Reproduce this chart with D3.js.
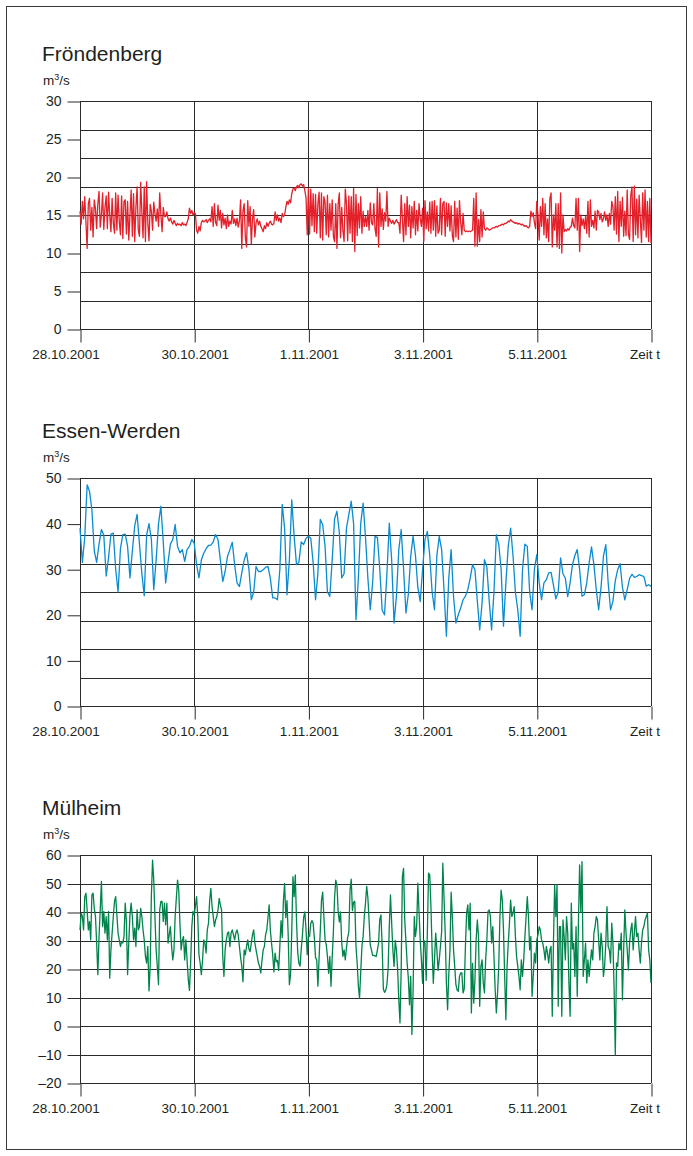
<!DOCTYPE html>
<html><head><meta charset="utf-8">
<script src="https://cdn.jsdelivr.net/npm/d3@7"></script>
<style>
html,body{margin:0;padding:0;background:#fff;}
svg text{font-family:"Liberation Sans",Arial,Helvetica,sans-serif;fill:#231f20;}
</style></head><body>
<svg id="chart" width="693" height="1156"></svg>
<script>
// ---- time axis ----
const startTime = Date.UTC(2001, 9, 28);
const endTime = Date.UTC(2001, 10, 7);
const xTickDates = [Date.UTC(2001,9,28), Date.UTC(2001,9,30), Date.UTC(2001,10,1), Date.UTC(2001,10,3), Date.UTC(2001,10,5), Date.UTC(2001,10,7)];
const xTickLabels = ["28.10.2001", "30.10.2001", "1.11.2001", "3.11.2001", "5.11.2001", ""];
const timeAxisTitle = "Zeit t";
const unitBase = "m";
const unitExponent = "3";
const unitTail = "/s";

// ---- stations ----
const stations = ["Fröndenberg", "Essen-Werden", "Mülheim"];
const yDomains = [[0, 30], [0, 50], [-20, 60]];
const yTickValues = [[0,5,10,15,20,25,30], [0,10,20,30,40,50], [-20,-10,0,10,20,30,40,50,60]];
const yTickLabels = [["0","5","10","15","20","25","30"], ["0","10","20","30","40","50"], ["–20","–10","0","10","20","30","40","50","60"]];
const gridDivisions = [8, 8, 8];
const sampleMinutes = [30, 60, 30];
const lineColors = ["#e4202a", "#0b8bd0", "#00844b"];

// discharge Fröndenberg, m³/s, half-hourly from 28.10.2001 00:00
const froendenbergFlow = [
15.5,13.8,16.8,14.5,17.4,14,10.6,16.5,17.2,13,
16,12.1,17,15.8,13.2,16.5,18.1,13.4,15,17.9,
13.1,16,17.5,13.2,18,15,12.8,17.2,14,12.6,
17.9,13,17.6,14.2,12.4,17.5,11.9,16.8,17,12.5,
16.8,11.7,15,18.3,12.2,17.8,11.5,16,18.7,13,
12.2,19.3,15.5,12,18.7,11.5,19.4,14,11.6,16.4,
15.5,13,16.7,15.2,14.2,15.8,13.5,17.9,15,12.8,
16,14.8,14.8,15.4,14.5,14.2,14.6,14.1,13.8,14.3,
13.9,13.6,13.9,13.7,13.8,13.6,14,13.7,13.8,13.6,
14,14.5,15.9,15.2,15.6,15,15.3,15.2,13,12.6,
13.5,12.9,14,14.3,14.1,14.2,14.4,14,14.3,14.5,
14.1,16.1,13.5,16.5,14,13.6,16.3,14.3,15.6,13.3,
15.2,13.7,14.6,13.2,15,13.5,14.2,13.8,15.6,13.9,
14.5,13.6,14.6,13.4,14.2,17,10.6,15.5,16.5,12,
10.8,16.9,13.5,16.1,11.2,14.5,15.7,12.1,14,14.5,
13.7,14.2,13.5,13.2,12.8,13.6,13.2,14,13.5,13.9,
14.2,13.8,13.7,13.9,15.4,14.3,15,14.2,14.6,14,
15.2,14.8,15,16,16.8,16.4,17,16.6,17.8,18.4,
18.6,18.2,18.7,18.9,18.6,19,19.1,18.8,19,18.2,
17.3,12.4,18.5,12.5,18.4,13.6,17.8,12.8,17.7,12.6,
16.5,18,12,17.9,11.7,17.4,16.7,12.4,17.6,12.1,
16.5,13,17,12.2,11.5,16.5,10.6,16.4,17.9,12,
16,13,11.5,18.4,16.5,11.6,17.5,12.6,17.4,11.5,
18.5,10.2,17.7,12.3,16.5,13.3,17.4,12.6,15.5,13.5,
14.8,13.5,15.6,13,16.6,14,13.7,16.5,13.2,12.2,
18.5,10.8,17.9,13.5,15.8,13.1,15.3,14.2,18.1,13.5,
14.6,14.2,13.9,14.3,13.8,14.1,14.4,14,14,12.6,
17.6,14.5,11.5,16.5,12.4,17.4,13.5,16.3,12,16.1,
13.3,16.8,12.4,15.6,12.9,16.5,14.5,13.5,15.9,11.5,
16.9,13.2,15.4,12.9,16.7,12.6,16.8,13,16.9,12.2,
16.2,12.6,13,17.2,12.4,16.5,16.8,12.2,16.6,13.5,
16.5,12.9,16.2,12.3,11.5,16.8,12.1,15.9,11.8,16.9,
14,12.4,15.2,13,12.8,12.9,12.8,12.9,12.8,12.9,
13,17.2,10.9,17.9,10.9,14.4,11.5,15.7,12.1,15.4,
13.2,13,13.3,13.2,13,13.1,13.2,13.3,13.3,13.4,
13.5,13.4,13.6,13.6,13.7,13.8,13.7,13.9,13.9,14,
14.2,14.1,14.4,14.2,14.1,14,13.9,14,13.8,13.9,
13.8,13.7,13.8,13.6,13.5,13.6,13.4,13.3,13.5,15.5,
14.8,15.3,14,13.2,16.8,15,11.7,16.1,13.5,17.2,
12.4,16.5,12,14.5,11.5,17.2,17.9,10.8,15,13,
16.5,10.8,16.5,10.6,17.9,10,15,12.8,13.1,12.9,
13.2,13,13.4,13.5,14.6,13.6,13.3,17.2,13,17.2,
10.2,15,13.6,14.5,13.2,14.8,12.6,16.8,12.1,17,
13.5,14.3,13.3,15.5,13,15.6,15.4,14.4,15.2,14.1,
14.5,15.4,14.3,15,13.5,15.2,13.8,16.8,16.1,13,
17.4,12.5,18.1,11.5,16.8,13.5,17.3,12.2,15.5,12.3,
18.3,12.5,11.8,17.6,18.7,11.5,18.8,12.4,17.1,12,
17.6,14.5,11.4,17.9,13,18.3,12.1,16.8,11.5,17.2,11.3
];

// discharge Essen-Werden, m³/s, hourly from 28.10.2001 00:00
const essenWerdenFlow = [
39,31.5,37,48.5,47.1,43,34,31.5,35.5,38.7,
37.5,28.5,32.5,37.7,37.9,30,25,34.5,37.6,37.7,
35,28.1,34,39.5,42,35.5,29,24.2,37.5,40,
36.5,25.5,32,40,43.8,36,27,31.5,35.5,36.5,
39.8,35,33.6,34.3,31.7,34.3,35,36.5,35.7,31,
28.1,32,33.5,34.5,35.2,35.3,36,37.6,36.5,32,
27.3,29.5,32.8,34.3,35.9,31,27,26.2,29.2,32,
33.6,30,23.3,25,30.6,29.5,29.5,29.9,30.4,30.6,
28,23.7,23.7,23.3,30,44.2,39,24.4,32,45.2,
37.2,31,31.5,36,35.4,36.8,37.2,36.8,31.4,23.3,
29.2,40.9,39.8,35,25,24,32,41,42.7,38,
28.1,29,39,42,44.9,40,18.9,28,40,44.5,
37,28,21.1,27,37.2,37,30,21,20,29,
40.1,32,18.2,24.1,34.3,38.7,30,20.4,24.5,32.8,
37.2,33,26,22.9,30,36.5,38.3,33,25,21.1,
33,37.2,34.3,25.5,15.3,28,34.3,24,18.2,20,
21.5,23.3,24.1,25.5,28,31,29.9,23,16.7,22.6,
32.1,30.5,23,16.7,25,37.6,35.5,30,17.5,27,
35,39,33,25,21.1,15.3,30,35.5,35,25,
21.1,30,33.2,27,23.3,27,27.7,29.2,29.3,26.5,
23.5,25,32.5,29,28,24,27,31,33,34.3,
29.9,24.1,24.4,27,31.4,34.9,31,25.5,21.1,26,
32.8,35.4,27,21.1,23,27.5,29.9,31.2,26,23.3,
25.5,28,28.9,28.2,28.4,28.8,28.6,28.4,26.3,26.6,26.2
];

// discharge Mülheim, m³/s, half-hourly from 28.10.2001 00:00
const muelheimFlow = [
33.7,39.6,38.4,33.7,45.4,46.6,40.7,33.7,36.7,30.2,
46,46.6,41.3,38.4,29.1,18,31.4,40.7,50.7,34.9,
40.2,32.6,38.4,30.2,40.2,16.8,26.7,32.6,38.4,43.7,
45.4,39,32.6,30.2,27.9,29.7,29.1,31.4,43.1,36.7,
18,29.1,39,43.1,38.4,30.2,34.3,27.9,40.7,33.7,
34.9,41.3,38.4,33.7,30.2,24.4,22.1,27.9,12.3,20.9,
46,58.2,51.2,38.4,26.7,20.9,14.5,40.7,43.7,43.7,
36.7,43.1,35.5,43.1,29.1,32,34.9,27.9,23.2,26.7,
38.4,45,51.2,47.7,36.1,26.7,30,31.4,23.2,30.2,
23.2,16.5,12.5,22.1,34.9,40.2,39,42,45.4,38.4,
25,22.1,18,23,30.2,29.1,25.6,33.7,36,44,
48.3,42,38.4,34.9,37.2,38.4,40.7,44.8,42.5,40.7,
24.4,17.4,26.7,30.2,32.6,33,27.9,32.6,33.7,32,
30.2,32.6,33.7,32,27.9,24,21,15.5,26.7,25,
27.9,30.2,27,26.1,29.1,32,33.7,29.1,26.7,24.4,
22.1,20.9,18.6,23,26.7,27.9,32,33.7,38,42.5,
33.7,29.1,25,19,25.6,22.5,23,19.5,28,37,
31,44,50,38,44,32,14.5,18,33,52.4,
45.4,53,37,26,22,21,27,32,38,40,
34,25,32,31.4,36,37,36,31,24,23.2,
14,24,33.5,44,47,38.4,30.2,28.5,24.5,18.5,
24.4,13.9,24,33,45,51.2,49.5,40.5,36.5,40,
29.5,24.4,26.7,23.2,27.5,31,33,47.7,51.5,40.5,
43.5,43.7,28,22,14,9.8,19,28,31.4,38.5,
43.1,49,45,37,28.5,26.7,24.8,24.8,24.6,24.4,
26.7,29.1,37.5,39,28,13,11.8,12.5,14.5,20,
35,46,36,26.7,20.9,30,26.7,20,9,1.1,
20,52.4,55.3,37,29.7,22.1,16.8,7.5,17.4,-3,
12,38.4,31.4,34.9,50.1,40,30.2,23.2,15,30.2,
29.1,16,33,53.6,53,42,26.7,15,23.2,32.6,
26.7,19.5,23.2,28,33,57.1,45,32.6,15,5.7,
18,26.7,47,38.4,26.7,20.9,14.5,12.7,12.2,17.4,
18.6,18.6,11.6,13,27.9,39.6,42.5,33.7,43.1,4.6,
22,8,16.2,30.2,37.2,31.4,6.9,20.9,23.2,15.1,
11.6,23.2,30.2,40.2,40.7,38.4,29.1,34.9,24.4,12.7,
4.6,11.6,20.9,38.4,47.7,44.2,33.7,17.4,2.2,20.9,
29.1,36.1,44.2,38.4,39.6,41.9,31.4,24.4,20.9,17.4,
12.7,23.2,17.4,23.2,31.4,38.4,45.4,38.4,26.7,31.4,
10.4,17.4,25.6,22.1,30.2,32,34.9,33.7,30.2,29.1,
26.7,23.2,27.9,25.6,22.1,26.7,27.9,3.4,29.1,49.5,
38.4,49.5,6.9,34.9,34.9,3.4,37.2,31.4,23.2,38.4,
32.6,15.1,3.4,43.1,27,29.1,17.4,34.9,10.4,36.1,
56.5,40,57.7,17.4,23.2,29.1,15.1,23.2,17.4,22.1,
26.7,23.2,32.6,34.9,38.4,37.2,30.2,23.2,32.6,27.9,
17.4,20.9,29.1,41.9,27.9,26.7,22.1,36.1,29.1,12.7,
-10.1,22.1,20.9,29.1,26.7,32.6,9.2,26.7,40.7,32.6,
26.7,19.7,29.1,33.7,36.1,26.7,32.6,38.4,31.4,32.6,
26.7,22.1,29.1,33.7,34.9,37.2,38.4,39.6,26.7,23.2,15.1
];

const flowSeries = [froendenbergFlow, essenWerdenFlow, muelheimFlow];

// ---- layout ----
const plotLeft = 80, plotRight = 651;
const plotTops = [101, 478, 855];
const plotHeight = 228;
const tickLen = 13;
const gridColor = "#2b2b2b";
const labelFont = '"Liberation Sans",Arial,sans-serif';

const svg = d3.select("#chart");

// outer frame
svg.append("rect")
  .attr("x", 6.5).attr("y", 6.5)
  .attr("width", 680).attr("height", 1143)
  .attr("fill", "none").attr("stroke", "#3a3a3a").attr("stroke-width", 1);

const x = d3.scaleUtc().domain([startTime, endTime]).range([plotLeft, plotRight]);

stations.forEach((name, p) => {
  const top = plotTops[p];
  const bottom = top + plotHeight;
  const y = d3.scaleLinear().domain(yDomains[p]).range([bottom, top]);
  const g = svg.append("g");

  // station title and unit
  g.append("text").attr("x", 42).attr("y", top - 40)
    .attr("font-size", 21).text(name);
  const unit = g.append("text").attr("x", 43).attr("y", top - 16).attr("font-size", 13.5);
  unit.append("tspan").text(unitBase);
  unit.append("tspan").attr("font-size", 9).attr("dy", -5).text(unitExponent);
  unit.append("tspan").attr("dy", 5).text(unitTail);

  // horizontal grid
  const [d0, d1] = yDomains[p];
  const gridVals = d3.range(gridDivisions[p] + 1).map(k => d0 + k * (d1 - d0) / gridDivisions[p]);
  g.append("g").selectAll("line").data(gridVals).join("line")
    .attr("x1", plotLeft).attr("x2", plotRight)
    .attr("y1", d => Math.round(y(d)) + 0.5).attr("y2", d => Math.round(y(d)) + 0.5)
    .attr("stroke", gridColor).attr("stroke-width", 1);

  // vertical grid at the date ticks
  g.append("g").selectAll("line").data(xTickDates).join("line")
    .attr("x1", d => Math.round(x(d)) + 0.5).attr("x2", d => Math.round(x(d)) + 0.5)
    .attr("y1", top).attr("y2", bottom)
    .attr("stroke", gridColor).attr("stroke-width", 1);

  // y axis ticks and labels
  const yAxis = d3.axisLeft(y)
    .tickValues(yTickValues[p])
    .tickSize(tickLen).tickPadding(6)
    .tickFormat((d, i) => yTickLabels[p][i]);
  const ya = g.append("g").attr("transform", `translate(${plotLeft + 0.5},0.5)`).call(yAxis);
  ya.select(".domain").remove();
  ya.selectAll(".tick line").attr("stroke", gridColor);
  ya.selectAll(".tick text").attr("font-size", 14).attr("fill", "#231f20")
    .attr("font-family", labelFont);

  // x axis ticks and labels
  const xAxis = d3.axisBottom(x)
    .tickValues(xTickDates)
    .tickSize(tickLen).tickPadding(7)
    .tickFormat((d, i) => xTickLabels[i]);
  const xa = g.append("g").attr("transform", `translate(0.5,${Math.round(bottom) + 0.5})`).call(xAxis);
  xa.select(".domain").remove();
  xa.selectAll(".tick line").attr("stroke", gridColor);
  xa.selectAll(".tick text").attr("font-size", 13.5).attr("fill", "#231f20")
    .attr("font-family", labelFont);
  // the first date label sits a little left of its tick
  xa.selectAll(".tick text").filter((d, i) => i === 0).attr("dx", -15);

  g.append("text").attr("x", 630).attr("y", bottom + 30)
    .attr("font-size", 13.5).text(timeAxisTitle);

  // discharge line
  const step = sampleMinutes[p] * 60000;
  const line = d3.line()
    .x((d, i) => x(startTime + i * step))
    .y(d => y(d));
  g.append("path").datum(flowSeries[p])
    .attr("d", line)
    .attr("fill", "none")
    .attr("stroke", lineColors[p])
    .attr("stroke-width", 1.3)
    .attr("stroke-linejoin", "round");
});
</script>
</body></html>
